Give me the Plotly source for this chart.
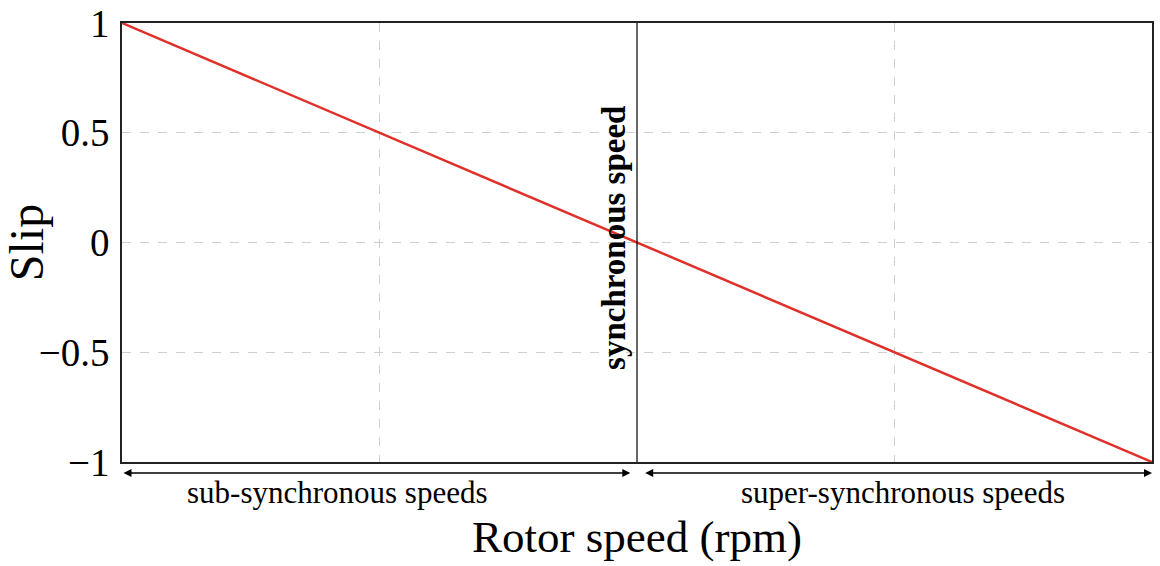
import plotly.graph_objects as go

# Data (normalized rotor speed, synchronous speed = 1)
rotor_speed = [0.0, 0.5, 1.0, 1.5, 2.0]
slip = [1.0, 0.5, 0.0, -0.5, -1.0]
y_ticks = [1, 0.5, 0, -0.5, -1]
y_tick_labels = ["1", "0.5", "0", "\u22120.5", "\u22121"]
sync_speed = 1.0
region_labels = ["sub-synchronous speeds", "super-synchronous speeds"]
region_centers = [0.419, 1.516]

serif = "Liberation Serif, DejaVu Serif, serif"

fig = go.Figure()
fig.add_trace(go.Scatter(x=rotor_speed, y=slip, mode="lines",
                         line=dict(color="#e0302a", width=2.5),
                         showlegend=False, hoverinfo="skip"))

# synchronous speed line
fig.add_shape(type="line", x0=sync_speed, x1=sync_speed, y0=0, y1=1,
              xref="x", yref="paper", line=dict(color="black", width=1.2))

# double-headed arrows below axis
arrow_y = -0.025
gap = 0.013
for (a, b) in [(rotor_speed[0], sync_speed - gap), (sync_speed + gap, rotor_speed[-1])]:
    fig.add_annotation(x=b, y=arrow_y, ax=a, ay=0, xref="x", yref="paper",
                       axref="x", ayref="pixel", showarrow=True, text="",
                       arrowhead=2, arrowside="end+start", arrowsize=1,
                       arrowwidth=1.6, arrowcolor="black")

for lbl, cx in zip(region_labels, region_centers):
    fig.add_annotation(x=cx, y=-0.07, xref="x", yref="paper", text=lbl,
                       showarrow=False, yanchor="middle",
                       font=dict(family=serif, size=31, color="black"))

fig.add_annotation(x=0.955, y=0.02, xref="x", yref="y",
                   text="<b>synchronous speed</b>", textangle=-90, showarrow=False,
                   font=dict(family=serif, size=33, color="black"))

fig.update_layout(
    width=1160, height=566,
    margin=dict(l=122, r=8, t=23, b=104, autoexpand=False),
    paper_bgcolor="white", plot_bgcolor="white",
    xaxis=dict(range=[0, 2], showticklabels=False, ticks="", automargin=False,
               tickvals=[0.5, 1.5], showgrid=True, gridcolor="#cfcfcf",
               griddash="dash", gridwidth=1, zeroline=False,
               showline=True, linecolor="#222", linewidth=1.5, mirror=True,
               title=dict(text="Rotor speed (rpm)", standoff=58,
                          font=dict(family=serif, size=45, color="black"))),
    yaxis=dict(range=[-1, 1], tickvals=y_ticks, ticktext=y_tick_labels,
               automargin=False, ticklabeloverflow="allow",
               showgrid=True, gridcolor="#cfcfcf", griddash="dash", gridwidth=1,
               zeroline=False, showline=True, linecolor="#222", linewidth=1.5,
               mirror=True, ticks="", ticklen=0, ticklabelstandoff=3,
               tickfont=dict(family=serif, size=39, color="black"),
               title=dict(text="Slip", standoff=12,
                          font=dict(family=serif, size=48, color="black"))),
)

fig.write_html("out.html")
